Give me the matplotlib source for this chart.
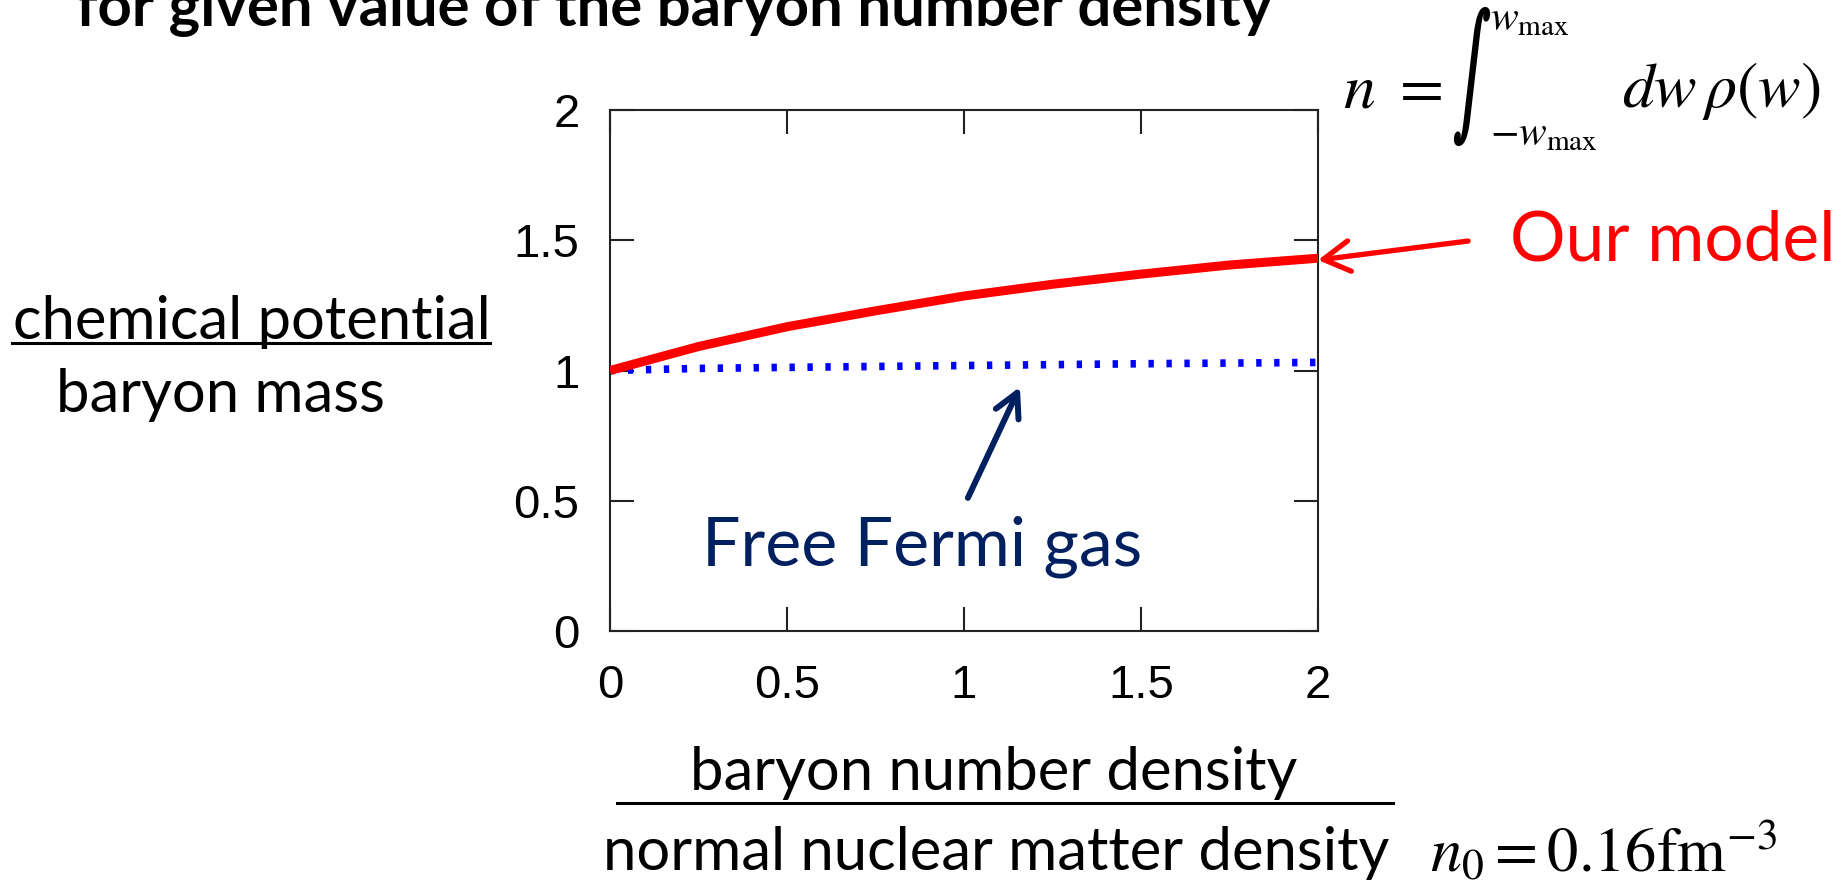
import matplotlib

matplotlib.use('Agg')
import matplotlib.pyplot as plt
from matplotlib.lines import Line2D
from matplotlib.textpath import TextPath
from matplotlib.patches import PathPatch
from matplotlib.font_manager import FontProperties
from matplotlib.transforms import Affine2D, IdentityTransform

# ── data ──
density = [0.0, 0.25, 0.5, 0.75, 1.0, 1.25, 1.5, 1.75, 2.0]
mu_model = [1.0, 1.092, 1.168, 1.229, 1.286, 1.331, 1.370, 1.405, 1.431]
density_free = [0.0, 0.25, 0.5, 1.0, 1.5, 2.0]
mu_free = [1.0, 1.008, 1.012, 1.019, 1.026, 1.031]

x_ticks = [0, 0.5, 1, 1.5, 2]
y_ticks = [0, 0.5, 1, 1.5, 2]
x_ticklabels = ['0', '0.5', '1', '1.5', '2']
y_ticklabels = ['0', '0.5', '1', '1.5', '2']

W, H = 1843, 886
NAVY = '#002060'
BODY = 'Lato'

plt.rcParams['mathtext.fontset'] = 'stix'


def fx(x):
    return x / W


def fy(y):
    return 1 - y / H


fig = plt.figure(figsize=(W / 100, H / 100), dpi=100)
ax = fig.add_axes([fx(610), fy(631), (1318 - 610) / W, (631 - 110) / H])

ax.plot(density, mu_model, color='red', lw=6.5, solid_capstyle='butt', zorder=3)
ax.plot(density_free, mu_free, color='blue', lw=5.5, linestyle=(0, (0.7, 1.65)),
        dash_capstyle='butt', zorder=2)

ax.set_xlim(0, 2)
ax.set_ylim(0, 2)
ax.set_xticks(x_ticks, x_ticklabels)
ax.set_yticks(y_ticks, y_ticklabels)
ax.tick_params(direction='in', length=17, width=1.5, color='#222222',
               top=True, right=True, labelsize=34, pad=22)
for lab in ax.get_xticklabels() + ax.get_yticklabels():
    lab.set_fontfamily('Liberation Sans')
ax.tick_params(axis='x', pad=24)
for s in ax.spines.values():
    s.set_linewidth(1.5)
    s.set_color('#222222')

# arrows
ax.annotate('', xy=(2.0, 1.424), xytext=(2.424, 1.497), xycoords='data',
            arrowprops=dict(arrowstyle='->,head_length=0.95,head_width=0.55',
                            mutation_scale=20, color='red', lw=3.8,
                            shrinkA=0, shrinkB=0),
            annotation_clip=False)
ax.annotate('', xy=(1.158, 0.937), xytext=(1.011, 0.511),
            arrowprops=dict(arrowstyle='->,head_length=0.85,head_width=0.45',
                            mutation_scale=20, color=NAVY, lw=4.3,
                            shrinkA=0, shrinkB=0))

# texts
fig.text(fx(76), fy(26), 'for given value of the baryon number density',
         fontsize=43, fontweight='bold', family=BODY, va='baseline')
fig.text(fx(1510), fy(260), 'Our model', color='red', fontsize=50, family=BODY, va='baseline')
fig.text(fx(702), fy(566), 'Free Fermi gas', color=NAVY, fontsize=49, family=BODY, va='baseline')
fig.text(fx(13), fy(339), 'chemical potential', fontsize=43, family=BODY, va='baseline')
fig.text(fx(56), fy(412), 'baryon mass', fontsize=43, family=BODY, va='baseline')
fig.text(fx(690), fy(790), 'baryon number density', fontsize=43, family=BODY, va='baseline')
fig.text(fx(603), fy(870), 'normal nuclear matter density', fontsize=43, family=BODY, va='baseline')

fig.add_artist(Line2D([fx(12), fx(490)], [fy(343), fy(343)], color='black', lw=2.2))
fig.add_artist(Line2D([fx(617), fx(1393)], [fy(803), fy(803)], color='black', lw=2.2))

# formulas
fig.text(fx(1343), fy(107), r'$n\ =$', fontsize=46, va='baseline')
fig.text(fx(1490), fy(30), r'$w_{\mathrm{max}}$', fontsize=30, va='baseline')
fig.text(fx(1490), fy(145), r'$-w_{\mathrm{max}}$', fontsize=30, va='baseline')
fig.text(fx(1622), fy(107), r'$dw\,\rho(w)$', fontsize=46, va='baseline')
fig.text(fx(1430), fy(872), r'$n_0 = 0.16\mathrm{fm}^{-3}$', fontsize=45, va='baseline')

# tall, narrow integral sign fitted into its box (pixels)
ipath = TextPath((0, 0), '\u222b', size=100, prop=FontProperties(family='STIXGeneral'))
ext = ipath.get_extents()
x0, x1, ytop, ybot = 1455, 1489, 8, 145
sx = (x1 - x0) / ext.width
sy = (ybot - ytop) / ext.height
itrans = Affine2D().translate(-ext.x0, -ext.y0).scale(sx, sy).translate(x0, H - ybot)
fig.add_artist(PathPatch(itrans.transform_path(ipath), transform=IdentityTransform(),
                         facecolor='black', edgecolor='black', lw=1.6))

fig.savefig('out.png', dpi=100)
